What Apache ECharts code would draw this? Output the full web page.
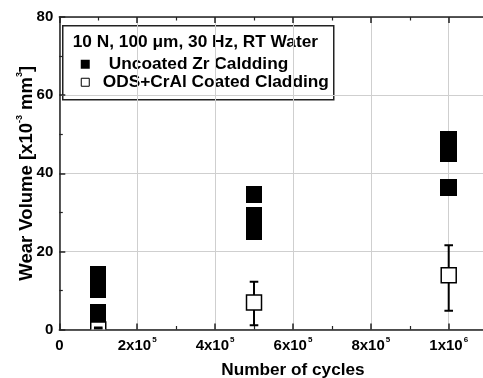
<!DOCTYPE html>
<html>
<head>
<meta charset="utf-8">
<script src="https://cdn.jsdelivr.net/npm/echarts@6/dist/echarts.min.js"></script>
<style>
  html, body { margin: 0; padding: 0; background: #fff; }
  #chart { width: 483px; height: 378px; }
</style>
</head>
<body>
<div id="chart"></div>
<script>
// uncoated Zr cladding, every measured square
const uncoatedCycles = [1e5, 1e5, 1e5, 1e5, 5e5, 5e5, 5e5, 1e6, 1e6, 1e6];
const uncoatedVolume = [3.6, 4.4, 10.1, 14.2, 25.0, 29.2, 34.5, 36.4, 45.0, 48.8];
// ODS+CrAl coated cladding, mean with error bars
const coatedCycles = [1e5, 5e5, 1e6];
const coatedVolume = [0, 6.9, 13.9];
const coatedLow = [0.2, 1.1, 4.8];
const coatedHigh = [0.5, 12.2, 21.6];
// axes
const xTicks = [0, 2e5, 4e5, 6e5, 8e5, 1e6];
const yTicks = [0, 20, 40, 60, 80];

const font = "Liberation Sans, Arial, sans-serif";
const sq = 16.5; // marker size in px

// label like 2x10^5
const fmtX = v => {
  if (xTicks.indexOf(v) < 0) return "";
  if (v === 0) return "{n|0}";
  const e = Math.floor(Math.log10(v) + 1e-9);
  const m = Math.round(v / Math.pow(10, e));
  return `{n|${m}x10}{s|${e}}`;
};

const tickRich = {
  n: { fontFamily: font, fontWeight: "bold", fontSize: 15, lineHeight: 20, color: "#000" },
  s: { fontFamily: font, fontWeight: "bold", fontSize: 8, color: "#000", verticalAlign: "top", padding: [0, 0, 0, 1] }
};

const axisLine = { show: true, onZero: false, lineStyle: { color: "#222", width: 1.5 } };
const axisTick = { show: true, inside: true, length: 6, lineStyle: { color: "#222", width: 1.5 } };
const minorTick = { show: true, splitNumber: 2, length: 3.5, lineStyle: { color: "#222", width: 1.2 } };

const chart = echarts.init(document.getElementById("chart"));
const option = {
  backgroundColor: "#fff",
  animation: false,
  grid: { left: 59.3, top: 17, width: 467.3, height: 312.5, containLabel: false, outerBoundsMode: "none" },
  xAxis: [
    {
      type: "value",
      min: 0,
      max: 1.2e6,
      interval: 2e5,
      axisLine,
      axisTick,
      minorTick,
      splitLine: { show: true, lineStyle: { color: "#cfcfcf", width: 1 } },
      axisLabel: { margin: 6.5, formatter: fmtX, rich: tickRich },
      name: "Number of cycles",
      nameLocation: "middle",
      nameGap: 32,
      nameMoveOverlap: false,
      nameTextStyle: { fontFamily: font, fontWeight: "bold", fontSize: 17.2, color: "#000" }
    },
    {
      type: "value",
      position: "top",
      min: 0,
      max: 1.2e6,
      interval: 2e5,
      axisLine,
      axisTick,
      minorTick,
      splitLine: { show: false },
      axisLabel: { show: false }
    }
  ],
  yAxis: {
    type: "value",
    min: 0,
    max: 80,
    interval: 20,
    axisLine,
    axisTick,
    minorTick,
    splitLine: { show: true, lineStyle: { color: "#cfcfcf", width: 1 } },
    axisLabel: {
      margin: 6,
      fontFamily: font,
      fontWeight: "bold",
      fontSize: 15,
      color: "#000",
      formatter: v => (yTicks.indexOf(v) < 0 ? "" : String(v))
    },
    name: "{n|Wear Volume [x10}{s|-3}{n| mm}{s|3}{n|]}",
    nameLocation: "middle",
    nameGap: 20,
    nameMoveOverlap: false,
    nameTextStyle: {
      rich: {
        n: { fontFamily: font, fontWeight: "bold", fontSize: 18.5, lineHeight: 24, color: "#000" },
        s: { fontFamily: font, fontWeight: "bold", fontSize: 9, color: "#000", verticalAlign: "top" }
      }
    }
  },
  series: [
    {
      name: "Uncoated Zr Caldding",
      type: "custom",
      clip: true,
      data: uncoatedCycles.map((c, i) => [c, uncoatedVolume[i]]),
      renderItem: (params, api) => {
        const p = api.coord([api.value(0), api.value(1)]);
        const x0 = Math.round(p[0] - sq / 2);
        const y0 = Math.round(p[1] - sq / 2);
        return {
          type: "rect",
          shape: { x: x0, y: y0, width: Math.round(p[0] + sq / 2) - x0, height: Math.round(p[1] + sq / 2) - y0 },
          style: { fill: "#000" }
        };
      }
    },
    {
      name: "ODS+CrAl Coated Cladding",
      type: "custom",
      clip: true,
      z: 3,
      data: coatedCycles.map((c, i) => [c, coatedVolume[i], coatedLow[i], coatedHigh[i]]),
      renderItem: (params, api) => {
        const x = api.value(0);
        const p = api.coord([x, api.value(1)]);
        const lo = api.coord([x, api.value(2)]);
        const hi = api.coord([x, api.value(3)]);
        const cap = 4.3;
        const s = sq - 1.5;
        return {
          type: "group",
          children: [
            {
              type: "line",
              shape: { x1: p[0], y1: lo[1], x2: p[0], y2: hi[1] },
              style: { stroke: "#000", lineWidth: 2 }
            },
            {
              type: "rect",
              shape: { x: p[0] - s / 2, y: p[1] - s / 2, width: s, height: s },
              style: { fill: "#fff", stroke: "#000", lineWidth: 1.5 }
            },
            {
              type: "line",
              shape: { x1: p[0] - cap, y1: lo[1], x2: p[0] + cap, y2: lo[1] },
              style: { stroke: "#000", lineWidth: 2 }
            },
            {
              type: "line",
              shape: { x1: p[0] - cap, y1: hi[1], x2: p[0] + cap, y2: hi[1] },
              style: { stroke: "#000", lineWidth: 2 }
            }
          ]
        };
      }
    }
  ],
  graphic: [
    {
      type: "group",
      left: 62,
      top: 25,
      z: 10,
      children: [
        {
          type: "rect",
          shape: { x: 0, y: 0, width: 271, height: 74 },
          style: { fill: "#fff", stroke: "#222", lineWidth: 1.5 }
        },
        {
          type: "text",
          x: 10,
          y: 16,
          style: {
            text: "10 N, 100 \u03bcm, 30 Hz, RT Water",
            fontFamily: font, fontWeight: "bold", fontSize: 17.3, fill: "#000",
            verticalAlign: "middle"
          }
        },
        {
          type: "rect",
          shape: { x: 18, y: 34, width: 9, height: 9 },
          style: { fill: "#000" }
        },
        {
          type: "text",
          x: 46,
          y: 38.5,
          style: {
            text: "Uncoated Zr Caldding",
            fontFamily: font, fontWeight: "bold", fontSize: 17.3, fill: "#000",
            verticalAlign: "middle"
          }
        },
        {
          type: "rect",
          shape: { x: 18.5, y: 52.5, width: 8, height: 8 },
          style: { fill: "#fff", stroke: "#000", lineWidth: 1 }
        },
        {
          type: "text",
          x: 40,
          y: 56.5,
          style: {
            text: "ODS+CrAl Coated Cladding",
            fontFamily: font, fontWeight: "bold", fontSize: 17.3, fill: "#000",
            verticalAlign: "middle"
          }
        }
      ]
    }
  ]
};
chart.setOption(option);
</script>
</body>
</html>
